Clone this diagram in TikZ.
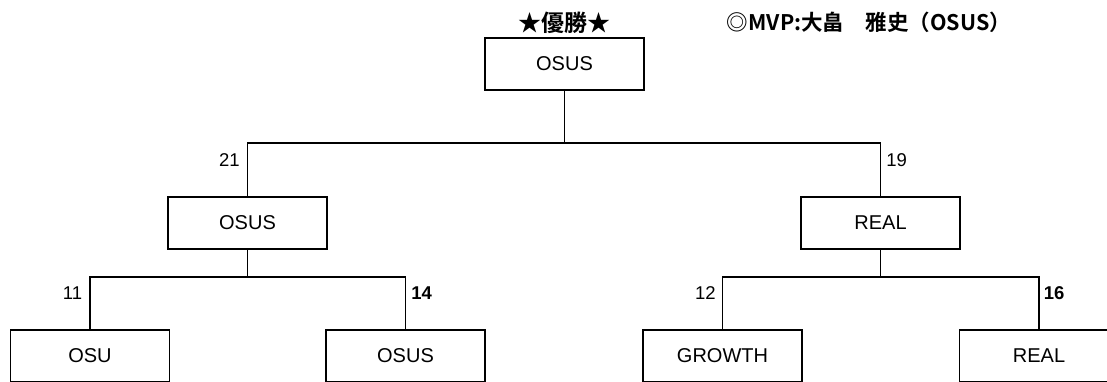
\documentclass[tikz,border=0pt]{standalone}
\usepackage{fontspec}
\setmainfont{Liberation Sans}
\newfontfamily\jpfont{Noto Sans CJK JP}[BoldFont={Noto Sans CJK JP Bold}]
\tikzset{
team/.style={draw,minimum width=159pt,minimum height=52pt,inner sep=0pt,font=\fontsize{20}{22}\selectfont},
score/.style={inner sep=0pt,font=\fontsize{18.5}{20}\selectfont},
winscore/.style={score,font=\fontsize{18.5}{20}\selectfont\bfseries},
headline/.style={inner sep=0pt,font=\jpfont\bfseries\fontsize{23}{26}\selectfont}
}
\begin{document}
\begin{tikzpicture}[x=1pt,y=-1pt,line width=1.8pt]
\useasboundingbox (0,0) rectangle (1107,381);
\pgfmathsetmacro{\ytop}{143}
\pgfmathsetmacro{\ybot}{277}
%title
\node[headline] (cup) at (564,23) {★優勝★};
\node[headline,anchor=west,font=\jpfont\bfseries\fontsize{21.5}{24}\selectfont] (mvp) at (726,22) {◎MVP:大畠　雅史（OSUS）};
%teams
\node[team] (final) at (564.5,64) {OSUS};
\node[team] (semiL) at (247.5,223) {OSUS};
\node[team] (semiR) at (880.5,223) {REAL};
\node[team] (qfA) at (90,356) {OSU};
\node[team] (qfB) at (405.5,356) {OSUS};
\node[team] (qfC) at (722.5,356) {GROWTH};
\node[team] (qfD) at (1039,356) {REAL};
%joints
\coordinate (hubF) at (564.5,\ytop);
\coordinate (hubL) at (247.5,\ybot);
\coordinate (hubR) at (880.5,\ybot);
%bracket lines
\draw (final.south)--(hubF);
\draw (semiL.north)--(semiL.north |- hubF)--(semiR.north |- hubF)--(semiR.north);
\draw (semiL.south)--(hubL);
\draw (qfA.north)--(qfA.north |- hubL)--(qfB.north |- hubL)--(qfB.north);
\draw (semiR.south)--(hubR);
\draw (qfC.north)--(qfC.north |- hubR)--(qfD.north |- hubR)--(qfD.north);
%scores
\node[score,anchor=east] (sL) at ([xshift=-7pt,yshift=-17pt]semiL.north |- hubF) {21};
\node[score,anchor=west] (sR) at ([xshift=5pt,yshift=-17pt]semiR.north |- hubF) {19};
\node[score,anchor=east] (sA) at ([xshift=-7pt,yshift=-16pt]qfA.north |- hubL) {11};
\node[winscore,anchor=west] (sB) at ([xshift=5pt,yshift=-16pt]qfB.north |- hubL) {14};
\node[score,anchor=east] (sC) at ([xshift=-6pt,yshift=-16pt]qfC.north |- hubR) {12};
\node[winscore,anchor=west] (sD) at ([xshift=4pt,yshift=-16pt]qfD.north |- hubR) {16};
\end{tikzpicture}
\end{document}
